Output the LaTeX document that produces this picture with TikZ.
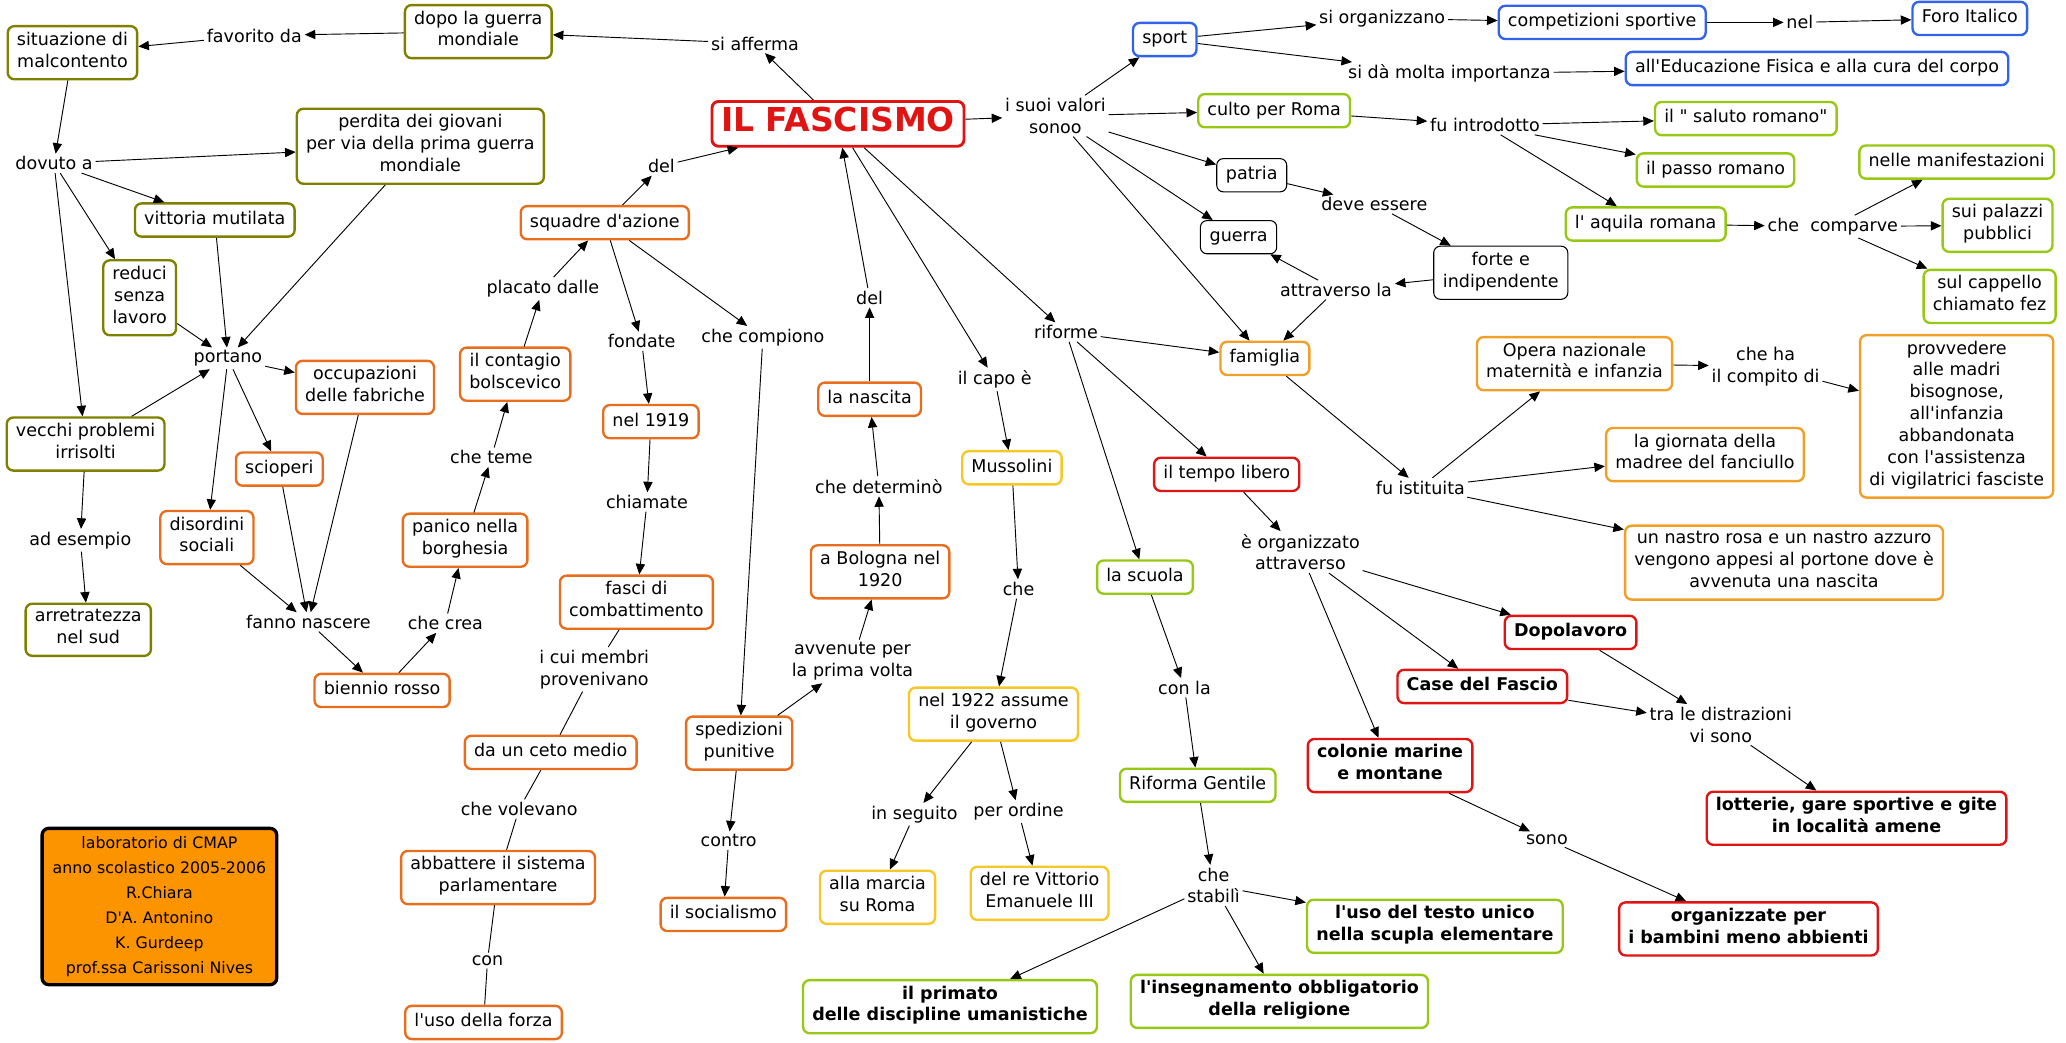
\documentclass[tikz,border=0pt]{standalone}
\usepackage{fontspec}
\setmainfont{DejaVu Sans}[Ligatures=TeXOff]
\usetikzlibrary{arrows.meta}
\definecolor{cOl}{RGB}{128,128,0}
\definecolor{cOr}{RGB}{232,110,30}
\definecolor{cFm}{RGB}{240,160,40}
\definecolor{cYe}{RGB}{245,200,40}
\definecolor{cLg}{RGB}{150,200,20}
\definecolor{cBl}{RGB}{50,100,235}
\definecolor{cRd}{RGB}{225,20,20}
\definecolor{cCr}{RGB}{252,148,0}
\newcommand\mfs{\fontsize{13.3}{16.6}\selectfont}
\begin{document}
\begin{tikzpicture}[x=1pt,y=-1pt,
  box/.style={draw, rounded corners=5pt, line width=1.8pt, fill=white, align=center,
    inner xsep=7pt, inner ysep=4.3pt, font=\mfs,
    execute at begin node=\strut, execute at end node=\strut},
  ol/.style={draw=cOl}, or/.style={draw=cOr}, fm/.style={draw=cFm}, ye/.style={draw=cYe},
  lg/.style={draw=cLg}, bl/.style={draw=cBl}, rd/.style={draw=cRd},
  bk/.style={draw=black, line width=0.8pt},
  bf/.style={font=\mfs\bfseries},
  lbl/.style={inner sep=2pt, align=center, font=\mfs},
  arr/.style={-{Triangle[length=8pt,width=7pt]}, line width=0.7pt},
  ln/.style={line width=0.7pt},
  credit/.style={draw=black, line width=2.5pt, rounded corners=5pt, fill=cCr, align=center,
    inner xsep=8pt, inner ysep=6pt, font=\fontsize{12}{19}\selectfont}
]
\useasboundingbox (0,0) rectangle (1568,791);

% nodes
\node[box,ol] (situ) at (55,40) {situazione di\\malcontento};
\node[lbl] (fav) at (193,27) {favorito da};
\node[box,ol] (dopo) at (363,24) {dopo la guerra\\mondiale};
\node[lbl] (siaff) at (573,33) {si afferma};
\node[box,rd,line width=2.2pt,inner ysep=2pt,text=cRd,font=\bfseries\fontsize{25}{30}\selectfont] (fasc) at (636,94) {IL FASCISMO};
\node[lbl] (dov) at (41,124) {dovuto a};
\node[box,ol] (perd) at (319,111) {perdita dei giovani\\per via della prima guerra\\mondiale};
\node[box,ol] (vitt) at (163,167) {vittoria mutilata};
\node[box,ol] (red) at (106,226) {reduci\\senza\\lavoro};
\node[lbl] (port) at (173,272) {portano};
\node[box,or] (occ) at (277,294) {occupazioni\\delle fabriche};
\node[box,ol] (vec) at (65,337) {vecchi problemi\\irrisolti};
\node[box,or] (sci) at (212,356) {scioperi};
\node[box,or] (dis) at (157,408) {disordini\\sociali};
\node[lbl] (ades) at (61,410) {ad esempio};
\node[box,ol] (arr) at (67,478) {arretratezza\\nel sud};
\node[lbl] (fann) at (234,472) {fanno nascere};
\node[box,or] (bien) at (290,524) {biennio rosso};
\node[lbl] (crea) at (338,473) {che crea};
\node[box,or] (pan) at (353,410) {panico nella\\borghesia};
\node[lbl] (teme) at (373,347) {che teme};
\node[box,or] (cont) at (391,284) {il contagio\\bolscevico};
\node[lbl] (plac) at (412,219) {placato dalle};
\node[box,or] (squ) at (459,169) {squadre d'azione};
\node[lbl] (del1) at (502,126) {del};
\node[lbl] (fond) at (487,259) {fondate};
\node[box,or] (n1919) at (494,320) {nel 1919};
\node[lbl] (chiam) at (491,381) {chiamate};
\node[box,or] (fasci) at (483,457) {fasci di\\combattimento};
\node[lbl] (cui) at (451,508) {i cui membri\\provenivano};
\node[box,or] (ceto) at (418,571) {da un ceto medio};
\node[lbl] (vol) at (394,614) {che volevano};
\node[box,or] (abb) at (378,666) {abbattere il sistema\\parlamentare};
\node[lbl] (con) at (370,729) {con};
\node[box,or] (forza) at (367,776) {l'uso della forza};
\node[lbl] (comp) at (579,256) {che compiono};
\node[box,or] (sped) at (561,564) {spedizioni\\punitive};
\node[lbl] (contro) at (553,638) {contro};
\node[box,or] (soc) at (549,694) {il socialismo};
\node[lbl] (avv) at (647,502) {avvenute per\\la prima volta};
\node[box,or] (bol) at (668,434) {a Bologna nel\\1920};
\node[lbl] (det) at (667,369) {che determinò};
\node[box,or] (nasc) at (660,303) {la nascita};
\node[lbl] (del2) at (660,226) {del};
\node[lbl] (capo) at (755,288) {il capo è};
\node[box,ye] (muss) at (768,355) {Mussolini};
\node[lbl] (che1) at (773,447) {che};
\node[box,ye] (n1922) at (754,542) {nel 1922 assume\\il governo};
\node[lbl] (segu) at (694,618) {in seguito};
\node[lbl] (ord) at (773,616) {per ordine};
\node[box,ye] (marc) at (666,681) {alla marcia\\su Roma};
\node[box,ye] (vitto) at (789,678) {del re Vittorio\\Emanuele III};
\node[lbl] (val) at (801,88) {i suoi valori\\sonoo};
\node[box,bl] (sport) at (884,30) {sport};
\node[lbl] (sorg) at (1049,14) {si organizzano};
\node[box,bl] (compet) at (1216,17) {competizioni sportive};
\node[lbl] (nel) at (1366,17) {nel};
\node[box,bl] (foro) at (1495,14) {Foro Italico};
\node[lbl] (sida) at (1100,56) {si dà molta importanza};
\node[box,bl] (edu) at (1379,52) {all'Educazione Fisica e alla cura del corpo};
\node[box,lg] (culto) at (967,84) {culto per Roma};
\node[lbl] (intr) at (1127,95) {fu introdotto};
\node[box,lg] (salu) at (1325,90) {il " saluto romano"};
\node[box,lg] (passo) at (1302,129) {il passo romano};
\node[box,bk] (patria) at (950,133) {patria};
\node[lbl] (deve) at (1043,155) {deve essere};
\node[box,bk] (guerra) at (940,180) {guerra};
\node[box,bk] (forte) at (1139,207) {forte e\\indipendente};
\node[lbl] (attr) at (1014,220) {attraverso la};
\node[box,lg] (aqui) at (1249,170) {l' aquila romana};
\node[lbl] (compar) at (1391,172) {che\ \ comparve};
\node[box,lg] (manif) at (1485,123) {nelle manifestazioni};
\node[box,lg] (pal) at (1516,171) {sui palazzi\\pubblici};
\node[box,lg] (capp) at (1510,225) {sul cappello\\chiamato fez};
\node[box,fm] (fam) at (960,272) {famiglia};
\node[lbl] (rif) at (809,252) {riforme};
\node[box,fm] (opera) at (1195,276) {Opera nazionale\\maternità e infanzia};
\node[lbl] (cheha) at (1340,278) {che ha\\il compito di};
\node[box,fm] (prov) at (1485,316) {provvedere\\alle madri\\bisognose,\\all'infanzia\\abbandonata\\con l'assistenza\\di vigilatrici fasciste};
\node[box,fm] (giorn) at (1294,345) {la giornata della\\madree del fanciullo};
\node[lbl] (ist) at (1078,370) {fu istituita};
\node[box,fm] (nastro) at (1354,427) {un nastro rosa e un nastro azzuro\\vengono appesi al portone dove è\\avvenuta una nascita};
\node[box,rd] (tempo) at (931,360) {il tempo libero};
\node[lbl] (orga) at (987,419) {è organizzato\\attraverso};
\node[box,lg] (scuola) at (869,438) {la scuola};
\node[box,rd,bf] (dopol) at (1192,480) {Dopolavoro};
\node[box,rd,bf] (casa) at (1125,521) {Case del Fascio};
\node[lbl] (distr) at (1306,550) {tra le distrazioni\\vi sono};
\node[box,rd,bf] (colo) at (1055,581) {colonie marine\\e montane};
\node[lbl] (sono) at (1174,637) {sono};
\node[box,rd,bf] (lott) at (1409,621) {lotterie, gare sportive e gite\\in località amene};
\node[box,rd,bf] (orgz) at (1327,705) {organizzate per\\i bambini meno abbienti};
\node[lbl] (conla) at (899,522) {con la};
\node[box,lg] (gent) at (909,596) {Riforma Gentile};
\node[lbl] (stab) at (921,672) {che\\stabilì};
\node[box,lg,bf] (testo) at (1089,703) {l'uso del testo unico\\nella scupla elementare};
\node[box,lg,bf] (prim) at (721,764) {il primato\\delle discipline umanistiche};
\node[box,lg,bf] (rel) at (971,760) {l'insegnamento obbligatorio\\della religione};
\node[credit] (cred) at (121,688) {laboratorio di CMAP\\anno scolastico 2005-2006\\R.Chiara\\D'A. Antonino\\K. Gurdeep\\prof.ssa Carissoni Nives};

% connectors
\draw[arr] (fasc) -- (siaff);
\draw[arr] (siaff) -- (dopo);
\draw[arr] (dopo) -- (fav);
\draw[arr] (fav) -- (situ);
\draw[arr] (situ) -- (dov);
\draw[arr] (dov) -- (perd);
\draw[arr] (dov) -- (vitt);
\draw[arr] (dov) -- (red);
\draw[arr] (dov) -- (vec);
\draw[arr] (perd) -- (port);
\draw[arr] (vitt) -- (port);
\draw[arr] (red) -- (port);
\draw[arr] (vec) -- (port);
\draw[arr] (port) -- (occ);
\draw[arr] (port) -- (sci);
\draw[arr] (port) -- (dis);
\draw[arr] (occ) -- (fann);
\draw[arr] (sci) -- (fann);
\draw[arr] (dis) -- (fann);
\draw[arr] (vec) -- (ades);
\draw[arr] (ades) -- (arr);
\draw[arr] (fann) -- (bien);
\draw[arr] (bien) -- (crea);
\draw[arr] (crea) -- (pan);
\draw[arr] (pan) -- (teme);
\draw[arr] (teme) -- (cont);
\draw[arr] (cont) -- (plac);
\draw[arr] (plac) -- (squ);
\draw[arr] (squ) -- (del1);
\draw[arr] (del1) -- (fasc);
\draw[arr] (squ) -- (fond);
\draw[arr] (fond) -- (n1919);
\draw[arr] (n1919) -- (chiam);
\draw[arr] (chiam) -- (fasci);
\draw[ln] (fasci) -- (cui);
\draw[ln] (cui) -- (ceto);
\draw[ln] (ceto) -- (vol);
\draw[ln] (vol) -- (abb);
\draw[ln] (abb) -- (con);
\draw[ln] (con) -- (forza);
\draw[arr] (squ) -- (comp);
\draw[arr] (comp) -- (sped);
\draw[arr] (sped) -- (avv);
\draw[arr] (avv) -- (bol);
\draw[arr] (bol) -- (det);
\draw[arr] (det) -- (nasc);
\draw[arr] (nasc) -- (del2);
\draw[arr] (del2) -- (fasc);
\draw[arr] (sped) -- (contro);
\draw[arr] (contro) -- (soc);
\draw[arr] (fasc) -- (capo);
\draw[arr] (capo) -- (muss);
\draw[arr] (muss) -- (che1);
\draw[arr] (che1) -- (n1922);
\draw[arr] (n1922) -- (segu);
\draw[arr] (segu) -- (marc);
\draw[arr] (n1922) -- (ord);
\draw[arr] (ord) -- (vitto);
\draw[arr] (fasc) -- (rif);
\draw[arr] (fasc) -- (val);
\draw[arr] (val) -- (sport);
\draw[arr] (val) -- (culto);
\draw[arr] (val) -- (patria);
\draw[arr] (val) -- (guerra);
\draw[arr] (val) -- (fam);
\draw[arr] (sport) -- (sorg);
\draw[arr] (sorg) -- (compet);
\draw[arr] (compet) -- (nel);
\draw[arr] (nel) -- (foro);
\draw[arr] (sport) -- (sida);
\draw[arr] (sida) -- (edu);
\draw[arr] (culto) -- (intr);
\draw[arr] (intr) -- (salu);
\draw[arr] (intr) -- (passo);
\draw[arr] (intr) -- (aqui);
\draw[arr] (aqui) -- (compar);
\draw[arr] (compar) -- (manif);
\draw[arr] (compar) -- (pal);
\draw[arr] (compar) -- (capp);
\draw[arr] (patria) -- (deve);
\draw[arr] (deve) -- (forte);
\draw[arr] (forte) -- (attr);
\draw[arr] (attr) -- (guerra);
\draw[arr] (attr) -- (fam);
\draw[arr] (rif) -- (fam);
\draw[arr] (rif) -- (tempo);
\draw[arr] (rif) -- (scuola);
\draw[arr] (fam) -- (ist);
\draw[arr] (ist) -- (opera);
\draw[arr] (ist) -- (giorn);
\draw[arr] (ist) -- (nastro);
\draw[arr] (opera) -- (cheha);
\draw[arr] (cheha) -- (prov);
\draw[arr] (tempo) -- (orga);
\draw[arr] (orga) -- (dopol);
\draw[arr] (orga) -- (casa);
\draw[arr] (orga) -- (colo);
\draw[arr] (dopol) -- (distr);
\draw[arr] (casa) -- (distr);
\draw[arr] (distr) -- (lott);
\draw[arr] (colo) -- (sono);
\draw[arr] (sono) -- (orgz);
\draw[arr] (scuola) -- (conla);
\draw[arr] (conla) -- (gent);
\draw[arr] (gent) -- (stab);
\draw[arr] (stab) -- (testo);
\draw[arr] (stab) -- (prim);
\draw[arr] (stab) -- (rel);
\end{tikzpicture}
\end{document}
